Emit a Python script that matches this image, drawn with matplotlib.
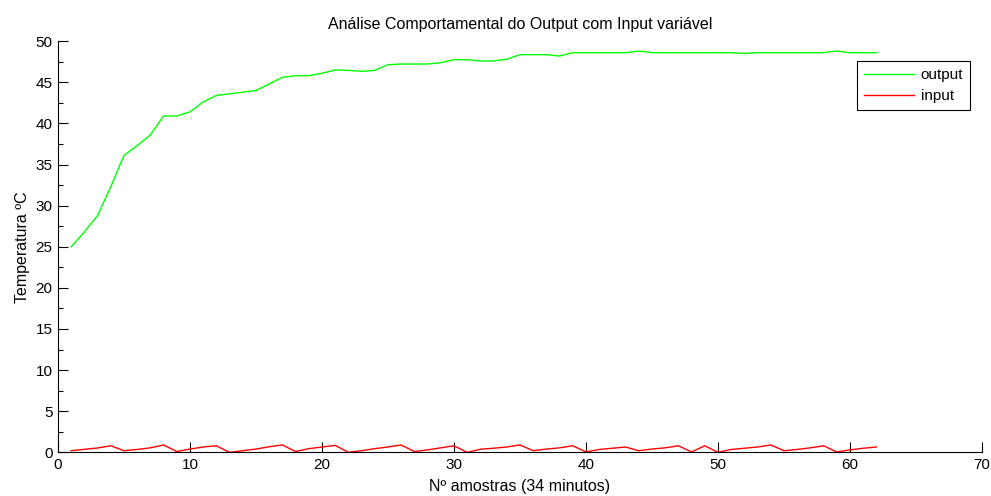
import matplotlib
matplotlib.use('Agg')
import matplotlib.pyplot as plt
import numpy as np

plt.rcParams['font.family'] = ['Liberation Sans', 'DejaVu Sans']
plt.rcParams['font.size'] = 11

# sample index and readings
amostras = np.arange(1, 63)

output = [25.0, 26.8, 28.8, 32.3, 36.1, 37.3, 38.6, 40.9, 40.9, 41.4,
          42.6, 43.4, 43.6, 43.8, 44.0, 44.8, 45.6, 45.8, 45.8, 46.1,
          46.5, 46.45, 46.33, 46.45, 47.14, 47.22, 47.22, 47.22, 47.38, 47.75,
          47.75, 47.58, 47.6, 47.8, 48.36, 48.36, 48.36, 48.19, 48.6, 48.6,
          48.6, 48.6, 48.6, 48.8, 48.6, 48.6, 48.6, 48.6, 48.6, 48.6,
          48.6, 48.5, 48.6, 48.6, 48.6, 48.6, 48.6, 48.6, 48.8, 48.6,
          48.6, 48.6]

inp = [0.2, 0.37, 0.53, 0.8, 0.2, 0.35, 0.55, 0.9, 0.1, 0.4,
       0.65, 0.8, 0.0, 0.2, 0.4, 0.68, 0.9, 0.1, 0.45, 0.65,
       0.85, 0.0, 0.2, 0.45, 0.65, 0.9, 0.1, 0.3, 0.55, 0.8,
       0.0, 0.38, 0.5, 0.65, 0.9, 0.2, 0.4, 0.55, 0.8, 0.05,
       0.35, 0.5, 0.65, 0.2, 0.4, 0.55, 0.8, 0.05, 0.8, 0.0,
       0.35, 0.5, 0.65, 0.9, 0.2, 0.35, 0.55, 0.8, 0.05, 0.3,
       0.5, 0.65]

fig = plt.figure(figsize=(9.91, 4.96), dpi=100)
ax = fig.add_axes([0.0585, 0.088, 0.9324, 0.829])

ax.plot(amostras, output, color='#00ff00', lw=1.0, label='output')
ax.plot(amostras, inp, color='#ff0000', lw=1.0, label='input')

ax.set_xlim(0, 70)
ax.set_ylim(0, 50)
ax.set_xticks(np.arange(0, 71, 10))
ax.set_yticks(np.arange(0, 51, 5))
ax.set_yticks(np.arange(2.5, 50, 5), minor=True)

ax.spines['top'].set_visible(False)
ax.spines['right'].set_visible(False)
for s in ('left', 'bottom'):
    ax.spines[s].set_linewidth(0.8)

ax.tick_params(axis='both', which='major', direction='in', length=7, width=0.8, labelsize=11, pad=4)
ax.tick_params(axis='y', which='minor', direction='in', length=3.5, width=0.8)

ax.set_title('Análise Comportamental do Output com Input variável', fontsize=11.5, pad=9)
ax.set_xlabel('Nº amostras (34 minutos)', fontsize=11.5, labelpad=5)
ax.set_ylabel('Temperatura ºC', fontsize=11.5, labelpad=4)

leg = ax.legend(loc='upper right', bbox_to_anchor=(0.987, 0.951), fontsize=11,
                frameon=True, fancybox=False, edgecolor='black', framealpha=1,
                handlelength=3.3, borderpad=0.45, labelspacing=0.45, handletextpad=0.4,
                borderaxespad=0)
leg.get_frame().set_linewidth(0.8)

fig.savefig('out.png', dpi=100)
